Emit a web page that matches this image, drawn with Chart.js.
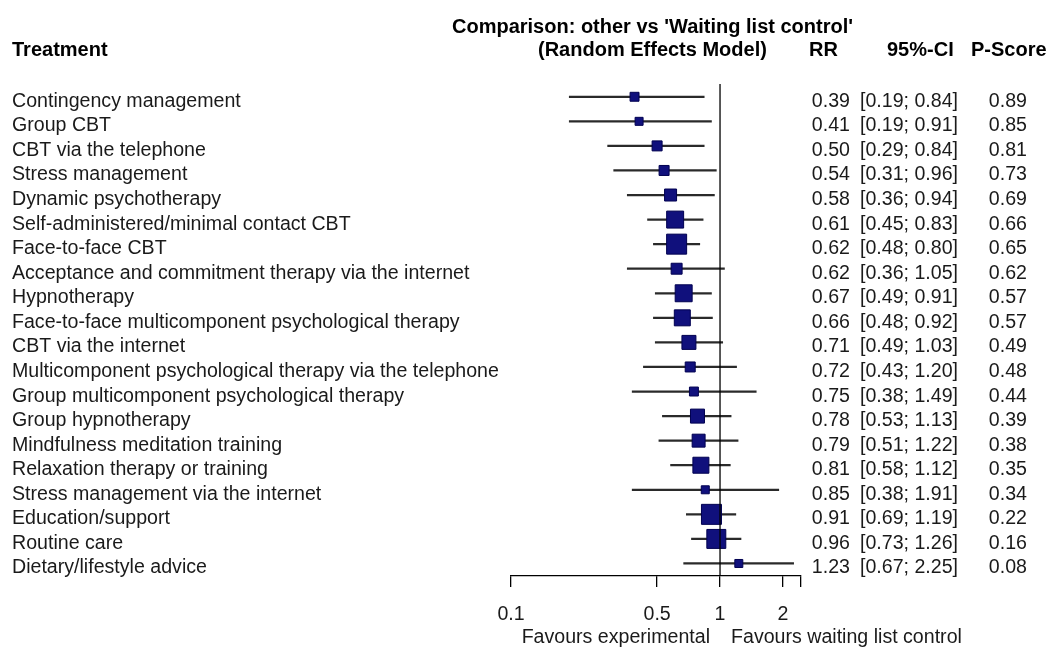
<!DOCTYPE html>
<html>
<head>
<meta charset="utf-8">
<script src="https://cdn.jsdelivr.net/npm/chart.js@4.4.1/dist/chart.umd.min.js"></script>
<style>
  html, body { margin: 0; padding: 0; background: #fff; }
  #wrap { width: 1047px; height: 651px; }
</style>
</head>
<body>
<div id="wrap"><canvas id="forestChart"></canvas></div>
<script>
// treatments compared with waiting list control (top to bottom)
const treatments = [
    'Contingency management',
    'Group CBT',
    'CBT via the telephone',
    'Stress management',
    'Dynamic psychotherapy',
    'Self-administered/minimal contact CBT',
    'Face-to-face CBT',
    'Acceptance and commitment therapy via the internet',
    'Hypnotherapy',
    'Face-to-face multicomponent psychological therapy',
    'CBT via the internet',
    'Multicomponent psychological therapy via the telephone',
    'Group multicomponent psychological therapy',
    'Group hypnotherapy',
    'Mindfulness meditation training',
    'Relaxation therapy or training',
    'Stress management via the internet',
    'Education/support',
    'Routine care',
    'Dietary/lifestyle advice'
];
const rr      = [0.39, 0.41, 0.50, 0.54, 0.58, 0.61, 0.62, 0.62, 0.67, 0.66, 0.71, 0.72, 0.75, 0.78, 0.79, 0.81, 0.85, 0.91, 0.96, 1.23];
const ciLower = [0.19, 0.19, 0.29, 0.31, 0.36, 0.45, 0.48, 0.36, 0.49, 0.48, 0.49, 0.43, 0.38, 0.53, 0.51, 0.58, 0.38, 0.69, 0.73, 0.67];
const ciUpper = [0.84, 0.91, 0.84, 0.96, 0.94, 0.83, 0.80, 1.05, 0.91, 0.92, 1.03, 1.20, 1.49, 1.13, 1.22, 1.12, 1.91, 1.19, 1.26, 2.25];
const pScore  = [0.89, 0.85, 0.81, 0.73, 0.69, 0.66, 0.65, 0.62, 0.57, 0.57, 0.49, 0.48, 0.44, 0.39, 0.38, 0.35, 0.34, 0.22, 0.16, 0.08];
// relative weights (square area), estimated from the squares
const weights = [20, 16, 25, 25, 36, 72, 100, 30, 72, 64, 49, 25, 20, 49, 42, 64, 16, 100, 90, 16];
const tickValues = [0.1, 0.5, 1, 2];
const xMin = 0.1, xMax = 2.44;

const FONT = '"Liberation Sans", Arial, sans-serif';
const TXT = '#1a1a1a';

// ref line at RR = 1 plus all the text columns
const forestText = {
    id: 'forestText',
    afterDatasetsDraw(chart) {
        const ctx = chart.ctx;
        const xs = chart.scales.x, ys = chart.scales.y;
        const area = chart.chartArea;
        const x1 = xs.getPixelForValue(1);

        ctx.save();
        ctx.strokeStyle = '#000';
        ctx.lineWidth = 1.3;
        ctx.beginPath();
        ctx.moveTo(x1, area.top);
        ctx.lineTo(x1, area.bottom);
        ctx.stroke();

        // headers
        ctx.fillStyle = '#000';
        ctx.font = 'bold 20px ' + FONT;
        ctx.textBaseline = 'alphabetic';
        ctx.textAlign = 'left';
        ctx.fillText('Treatment', 12, 56);
        ctx.fillText("Comparison: other vs 'Waiting list control'", 452, 33);
        ctx.fillText('(Random Effects Model)', 538, 56);
        ctx.fillText('RR', 809, 56);
        ctx.fillText('95%-CI', 887, 56);
        ctx.fillText('P-Score', 971, 56);

        // rows
        ctx.fillStyle = TXT;
        ctx.font = '19.6px ' + FONT;
        treatments.forEach((name, i) => {
            const y = ys.getPixelForValue(i) + 10;
            ctx.textAlign = 'left';
            ctx.fillText(name, 12, y);
            ctx.textAlign = 'right';
            ctx.fillText(rr[i].toFixed(2), 850, y);
            ctx.fillText('[' + ciLower[i].toFixed(2) + '; ' + ciUpper[i].toFixed(2) + ']', 958, y);
            ctx.fillText(pScore[i].toFixed(2), 1027, y);
        });

        // favours labels
        ctx.fillStyle = TXT;
        ctx.textAlign = 'right';
        ctx.fillText('Favours experimental', x1 - 10, 643);
        ctx.textAlign = 'left';
        ctx.fillText('Favours waiting list control', x1 + 11, 643);
        ctx.restore();
    }
};

const ctx = document.getElementById('forestChart');
new Chart(ctx, {
    type: 'scatter',
    data: {
        datasets: [{
            type: 'scatter',
            label: 'RR',
            data: rr.map((v, i) => ({ x: v, y: i })),
            pointStyle: 'rect',
            pointRadius: weights.map(w => 20 * Math.sqrt(w / 100) / Math.SQRT2),
            pointHoverRadius: weights.map(w => 20 * Math.sqrt(w / 100) / Math.SQRT2),
            backgroundColor: '#10107c',
            borderColor: '#000050',
            borderWidth: 1,
            order: 0
        }, {
            type: 'bar',
            label: '95%-CI',
            indexAxis: 'y',
            data: ciLower.map((lo, i) => ({ x: [lo, ciUpper[i]], y: i })),
            backgroundColor: '#2a2a2a',
            borderWidth: 0,
            barThickness: 1.6,
            order: 1
        }]
    },
    options: {
        responsive: true,
        maintainAspectRatio: false,
        animation: false,
        layout: { padding: { left: 511, right: 246, top: 84, bottom: 15 } },
        plugins: {
            legend: { display: false },
            tooltip: { enabled: false }
        },
        scales: {
            x: {
                type: 'logarithmic',
                min: xMin,
                max: xMax,
                offset: false,
                afterBuildTicks(scale) {
                    scale.ticks = tickValues.concat([xMax]).map(v => ({ value: v }));
                },
                afterFit(scale) { scale.height = 60; },
                ticks: {
                    autoSkip: false,
                    maxRotation: 0,
                    padding: 16,
                    color: TXT,
                    font: { family: FONT, size: 19.6 },
                    callback: (v) => tickValues.includes(v) ? String(v) : ''
                },
                grid: {
                    display: true,
                    drawOnChartArea: false,
                    drawTicks: true,
                    tickLength: 11,
                    color: '#000',
                    lineWidth: 1.3
                },
                border: { display: true, color: '#000', width: 1.3 }
            },
            y: {
                type: 'linear',
                reverse: true,
                offset: false,
                grace: 0,
                min: -0.52,
                max: 19.51,
                display: false
            }
        }
    },
    plugins: [forestText]
});
</script>
</body>
</html>
